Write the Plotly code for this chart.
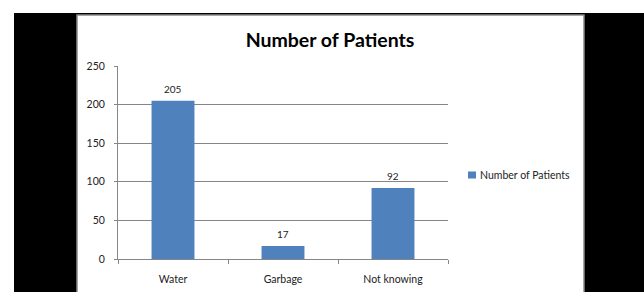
import plotly.graph_objects as go

categories = ["Water", "Garbage", "Not knowing"]
values = [205, 17, 92]
series_name = "Number of Patients"
title_text = "Number of Patients"
y_ticks = [0, 50, 100, 150, 200, 250]

W, H = 644, 292
L, R, T, B = 118, 448, 66, 259  # plot area pixel edges

def px(x):
    return (x - L) / (R - L)

def py(y):
    return (B - y) / (B - T)

FONT = "Lato"
BLUE = "#4F81BD"
GRID = "#868686"

fig = go.Figure()
fig.add_trace(go.Bar(
    x=categories, y=values, name=series_name,
    marker=dict(color=BLUE, line=dict(width=0)),
    showlegend=False,
))

shapes = [
    # black background frame
    dict(type="rect", xref="paper", yref="paper", x0=px(14), x1=px(650), y0=py(13), y1=py(300),
         fillcolor="black", line=dict(width=0), layer="below"),
    # white chart area with gray border
    dict(type="rect", xref="paper", yref="paper", x0=px(77), x1=px(584), y0=py(15), y1=py(300),
         fillcolor="white", line=dict(color="#8a8a8a", width=1.5), layer="below"),
    # legend marker
    dict(type="rect", xref="paper", yref="paper", x0=px(468), x1=px(476), y0=py(171.5), y1=py(178.5),
         fillcolor=BLUE, line=dict(width=0), layer="above"),
]

annotations = [dict(text=series_name, xref="paper", yref="paper", x=px(478), y=py(175),
                    xanchor="left", yanchor="middle", showarrow=False,
                    font=dict(family=FONT, size=10.5, color="#222"))]
for c, v in zip(categories, values):
    annotations.append(dict(text=str(v), x=c, y=v, xref="x", yref="y", showarrow=False,
                            xanchor="center", yanchor="middle", yshift=12,
                            font=dict(family=FONT, size=10, color="#222")))

fig.update_layout(
    width=W, height=H,
    margin=dict(l=L, r=W - R, t=T, b=H - B, pad=0, autoexpand=False),
    paper_bgcolor="white", plot_bgcolor="rgba(0,0,0,0)",
    bargap=0.61,
    shapes=shapes,
    title=dict(text="<b>" + title_text + "</b>", x=330 / W, xref="container", xanchor="center",
               y=1 - 40 / H, yref="container", yanchor="middle",
               font=dict(family=FONT, size=19.5, color="black")),
    annotations=annotations,
    font=dict(family=FONT, size=10, color="#222"),
)
fig.update_yaxes(range=[0, 250], tickvals=y_ticks, showgrid=True, gridcolor=GRID, gridwidth=1,
                 showline=True, linecolor=GRID, linewidth=1, ticks="outside", ticklen=3,
                 tickcolor=GRID, zeroline=False, ticklabelstandoff=7, automargin=False,
                 tickfont=dict(family=FONT, size=10.5, color="#222"))
fig.update_xaxes(showline=True, linecolor=GRID, linewidth=1, ticks="outside", ticklen=4,
                 tickcolor=GRID, tickson="boundaries", showgrid=False, ticklabelstandoff=10,
                 automargin=False,
                 tickfont=dict(family=FONT, size=10.5, color="#222"))

fig.write_html("out.html", config={"displayModeBar": False},
               post_script="document.body.style.margin='0';document.body.style.overflow='hidden';")
